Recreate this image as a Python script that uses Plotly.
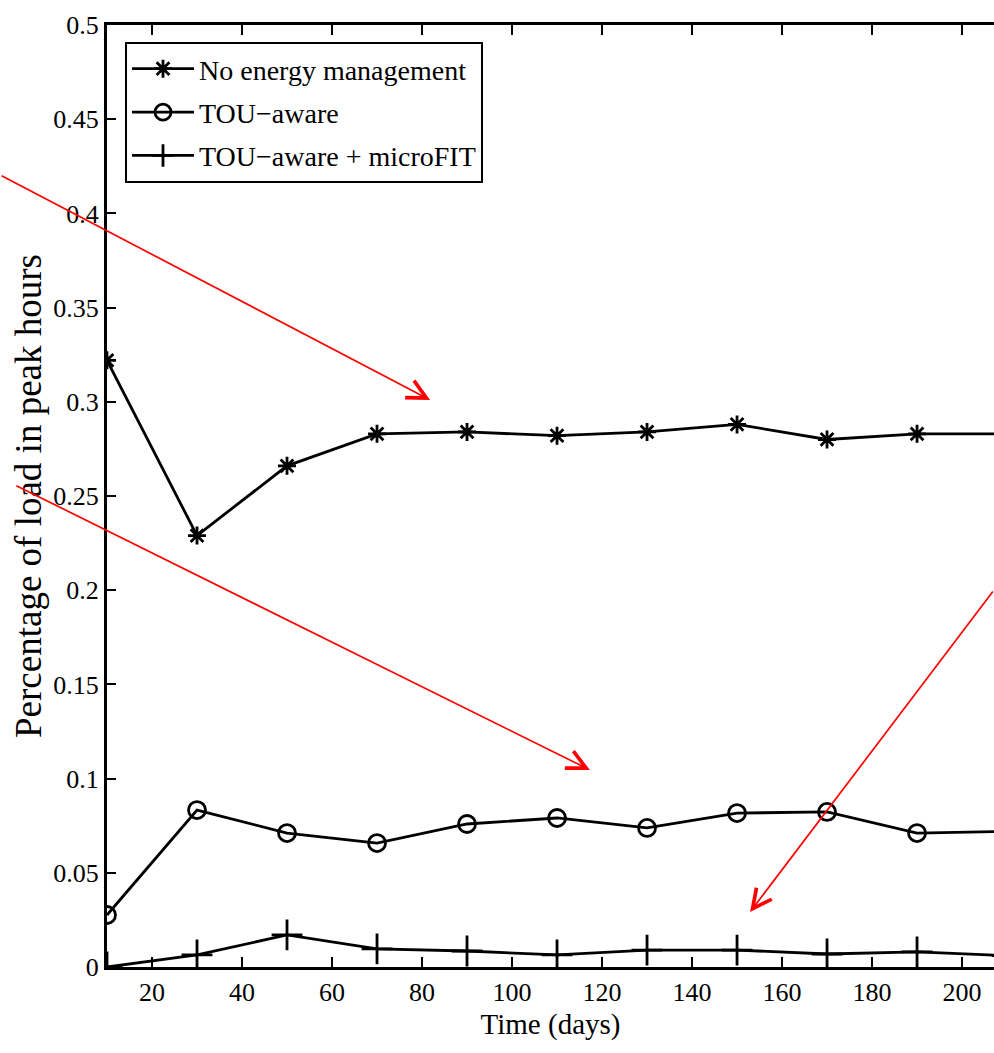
import plotly.graph_objects as go

# ---- data ----
days = [10, 30, 50, 70, 90, 110, 130, 150, 170, 190, 210]
no_mgmt = [0.322, 0.229, 0.266, 0.283, 0.284, 0.282, 0.284, 0.288, 0.280, 0.283, 0.283]
tou_aware = [0.0276, 0.0833, 0.0711, 0.0658, 0.0759, 0.0791, 0.0738, 0.0817, 0.0823, 0.0711, 0.072]
tou_microfit = [0.0, 0.0064, 0.017, 0.0096, 0.0085, 0.0064, 0.009, 0.009, 0.0069, 0.008, 0.006]

series_names = ["No energy management", "TOU\u2212aware", "TOU\u2212aware + microFIT"]
x_ticks = [20, 40, 60, 80, 100, 120, 140, 160, 180, 200]
y_ticks = [0, 0.05, 0.1, 0.15, 0.2, 0.25, 0.3, 0.35, 0.4, 0.45, 0.5]
y_tick_text = ["0", "0.05", "0.1", "0.15", "0.2", "0.25", "0.3", "0.35", "0.4", "0.45", "0.5"]

FONT = "Liberation Serif"

fig = go.Figure()
styles = [
    dict(symbol="asterisk-open", size=15),
    dict(symbol="circle-open", size=17),
    dict(symbol="cross-thin-open", size=22),
]
for name, ys, st, grp in zip(series_names, [no_mgmt, tou_aware, tou_microfit], styles, ["a", "b", "c"]):
    fig.add_trace(go.Scatter(
        x=days, y=ys, name=name, mode="lines+markers",
        legendgroup=grp,
        line=dict(color="black", width=2.8),
        marker=dict(symbol=st["symbol"], size=st["size"], color="black",
                    line=dict(color="black", width=2.8)),
        cliponaxis=True,
    ))

# red annotation arrows (head in data coords, tail as pixel offset)
arrows = [
    (81.8, 0.301, -430, -225),
    (117.3, 0.1046, -575, -285),
    (152.9, 0.0292, 244, -322),
]
for hx, hy, ax, ay in arrows:
    fig.add_annotation(x=hx, y=hy, ax=ax, ay=ay, xref="x", yref="y",
                       axref="pixel", ayref="pixel", text="", showarrow=True,
                       arrowhead=5, arrowsize=2.2, arrowwidth=1.7,
                       arrowcolor="#ff0000")

fig.update_layout(
    width=994, height=1053,
    margin=dict(l=107, r=0, t=25, b=86),
    paper_bgcolor="white", plot_bgcolor="white",
    font=dict(family=FONT, color="black", size=26),
    showlegend=True,
    legend=dict(x=0.0203, y=0.982, xanchor="left", yanchor="top",
                bordercolor="black", borderwidth=2, bgcolor="white",
                font=dict(family=FONT, size=28, color="black"),
                itemwidth=62, tracegroupgap=4),
)
fig.update_xaxes(
    range=[10, 207.1], tickvals=x_ticks, ticks="inside", ticklen=10, tickwidth=1.5,
    tickcolor="black", showline=True, linecolor="black", linewidth=3,
    mirror="ticks", showgrid=False, zeroline=False,
    tickfont=dict(family=FONT, size=26, color="black"),
    title=dict(text="Time (days)", font=dict(family=FONT, size=29, color="black"), standoff=8),
)
fig.update_yaxes(
    range=[0, 0.5], tickvals=y_ticks, ticktext=y_tick_text, ticks="inside", ticklen=9,
    tickwidth=1.5, tickcolor="black", showline=True, linecolor="black", linewidth=3,
    mirror=False, showgrid=False, zeroline=False,
    tickfont=dict(family=FONT, size=26, color="black"),
    title=dict(text="Percentage of load in peak hours",
               font=dict(family=FONT, size=37, color="black"), standoff=1),
)

fig.write_html("out.html", config={"displayModeBar": False},
               post_script="document.body.style.margin='0';document.body.style.overflow='hidden';")
